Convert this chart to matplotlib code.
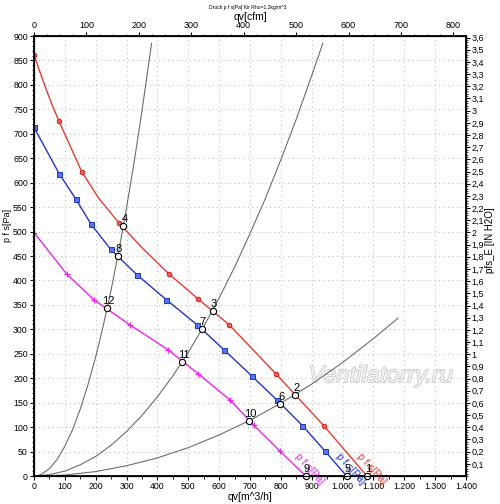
import matplotlib
matplotlib.use("Agg")
import matplotlib.pyplot as plt
import matplotlib.patheffects as pe
from matplotlib.ticker import MultipleLocator, FixedLocator, FuncFormatter
import numpy as np

plt.rcParams['font.family'] = ['Liberation Sans', 'DejaVu Sans']

# Kennlinien (qv in m^3/h, p in Pa)
q_rot = [0, 20, 40, 60, 81, 115, 155, 210, 276, 350, 438, 532, 633, 784, 939, 1079]
p_rot = [862, 825, 790, 757, 726, 678, 622, 568, 517, 467, 413, 362, 309, 209, 103, 0]
q_rot_mk = [0, 81, 155, 276, 438, 532, 633, 784, 939]
p_rot_mk = [862, 726, 622, 517, 413, 362, 309, 209, 103]

q_blau = [0, 82, 135, 185, 248, 333, 428, 529, 616, 705, 788, 870, 943, 1013]
p_blau = [713, 618, 567, 515, 464, 412, 361, 309, 258, 205, 155, 103, 51, 0]

q_mag = [0, 106, 193, 311, 435, 532, 636, 712, 797, 880]
p_mag = [498, 413, 361, 309, 258, 209, 155, 104, 51, 0]

# Anlagenkennlinien
q_anl1 = [10, 25, 50, 75, 100, 125, 150, 175, 200, 225, 250, 275, 300, 325, 350, 381]
p_anl1 = [0, 4, 15, 34, 61, 95, 137, 187, 244, 309, 381, 461, 549, 644, 747, 885]
q_anl2 = [10, 50, 100, 150, 200, 250, 300, 350, 400, 450, 500, 550, 600, 650,
          700, 750, 800, 850, 900, 936]
p_anl2 = [0, 3, 10, 23, 40, 63, 91, 124, 162, 205, 253, 306, 364, 427,
          496, 568, 647, 730, 819, 885]
q_anl3 = [10, 100, 200, 300, 400, 500, 600, 700, 800, 900, 1000, 1100, 1180]
p_anl3 = [0, 2, 9, 21, 37, 58, 84, 114, 149, 188, 232, 281, 323]

# Betriebspunkte
bp_nr = ['1', '2', '3', '4', '5', '6', '7', '8', '9', '10', '11', '12']
bp_q = [1080, 846, 579, 289, 1013, 797, 543, 271, 880, 698, 481, 236]
bp_p = [0, 166, 338, 511, 0, 147, 300, 450, 0, 113, 234, 343]

fig = plt.figure(figsize=(5.0, 5.04), dpi=100)
ax = fig.add_axes([34/500, 28/504, 432/500, 440/504])

ax.set_xlim(0, 1400)
ax.set_ylim(0, 900)

# Gitter
ax.xaxis.set_major_locator(MultipleLocator(100))
ax.yaxis.set_major_locator(MultipleLocator(50))
ax.grid(True, color='#c0c0c0', linestyle=(0, (1, 3)), linewidth=0.8)
ax.set_axisbelow(True)

# Wasserzeichen
ax.text(1124, 205, 'Ventilatorry.ru', fontsize=17, style='italic',
        color='#f2f2f2', ha='center', va='center', zorder=1,
        path_effects=[pe.withStroke(linewidth=1.0, foreground='#c4c4c4')])

# Anlagenkennlinien
for q, p in [(q_anl1, p_anl1), (q_anl2, p_anl2), (q_anl3, p_anl3)]:
    ax.plot(q, p, color='#6e6e6e', lw=0.8, zorder=2)

# Ventilatorkennlinien
ax.plot(q_rot, p_rot, color='#e83a30', lw=1.0, zorder=3)
ax.plot(q_rot_mk, p_rot_mk, ls='none', marker='o', ms=3.3, mfc='#f06050',
        mec='#d02020', mew=0.7, zorder=4)
ax.plot(q_blau, p_blau, color='#2233cc', lw=1.0, zorder=3)
ax.plot(q_blau[:-1], p_blau[:-1], ls='none', marker='s', ms=3.6, mfc='#5577ee',
        mec='#2233bb', mew=0.7, zorder=4)
ax.plot(q_mag, p_mag, color='#ee22ee', lw=1.0, zorder=3)
ax.plot(q_mag[:-1], p_mag[:-1], ls='none', marker='+', ms=4, mec='#ee22ee',
        mew=0.8, zorder=4)

# Beschriftung an den Kurven
for q_end, col in [(q_rot[-1], '#e83a30'), (q_blau[-1], '#2233cc'), (q_mag[-1], '#ee22ee')]:
    ax.text(q_end - 40, 36, 'p f s[Pa]', color=col, fontsize=7.5, rotation=-48,
            rotation_mode='anchor', ha='left', va='bottom', clip_on=False, zorder=5)

# Betriebspunkte
ax.plot(bp_q, bp_p, ls='none', marker='o', ms=4.5, mfc='white', mec='black',
        mew=0.8, zorder=6, clip_on=False)
for nr, q, p in zip(bp_nr, bp_q, bp_p):
    ax.annotate(nr, (q, p), xytext=(1, 1.5), textcoords='offset points',
                ha='center', va='bottom', fontsize=8, zorder=7)

# Achsen unten / links
ax.xaxis.set_minor_locator(MultipleLocator(50))
ax.yaxis.set_minor_locator(MultipleLocator(10))
ax.xaxis.set_major_formatter(FuncFormatter(lambda v, pos: f'{int(v):,}'.replace(',', '.')))
ax.tick_params(axis='both', which='major', labelsize=6.3, length=3, width=0.8, pad=1.5)
ax.tick_params(axis='both', which='minor', length=1.8, width=0.6)
for s in ax.spines.values():
    s.set_linewidth(1.3)

# rechte Achse in H2O
ax_r = ax.twinx()
ax_r.set_ylim(0, 900 / 249.089)
ax_r.yaxis.set_major_locator(FixedLocator(np.arange(1, 37) / 10))
ax_r.yaxis.set_minor_locator(MultipleLocator(0.02))
ax_r.yaxis.set_major_formatter(FuncFormatter(
    lambda v, pos: (f'{v:.1f}'.rstrip('0').rstrip('.')).replace('.', ',')))
ax_r.tick_params(axis='y', which='major', labelsize=6.5, length=3, width=0.8, pad=1)
ax_r.tick_params(axis='y', which='minor', length=1.5, width=0.5)

# obere Achse cfm
ax_t = ax.twiny()
ax_t.set_xlim(0, 1400 / 1.69901)
ax_t.xaxis.set_major_locator(MultipleLocator(100))
ax_t.xaxis.set_minor_locator(MultipleLocator(25))
ax_t.tick_params(axis='x', which='major', labelsize=6.5, length=3, width=0.8, pad=1)
ax_t.tick_params(axis='x', which='minor', length=1.5, width=0.5)

# Achsentitel
fig.text(250/500, 1 - 497/504, 'qv[m^3/h]', fontsize=7.5, ha='center', va='center')
fig.text(250/500, 1 - 17/504, 'qv[cfm]', fontsize=7.5, ha='center', va='center')
fig.text(248/500, 1 - 7/504, 'Druck p f s[Pa] für Rho=1,2kg/m^3', fontsize=3.6,
         ha='center', va='center')
fig.text(7/500, 1 - 225/504, 'p f s[Pa]', fontsize=6.5, rotation=90,
         ha='center', va='center')
fig.text(490/500, 1 - 240/504, 'pfs_E [IN H2O]', fontsize=7, rotation=90,
         ha='center', va='center')

fig.savefig('out.png', dpi=100)
